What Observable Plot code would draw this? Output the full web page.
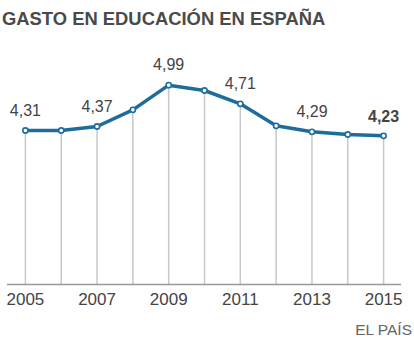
<!DOCTYPE html>
<html>
<head>
<meta charset="utf-8">
<script src="https://cdn.jsdelivr.net/npm/d3@7"></script>
<script src="https://cdn.jsdelivr.net/npm/@observablehq/plot@0.6"></script>
<style>
  html, body { margin: 0; padding: 0; background: #fff; }
  body { width: 414px; height: 345px; overflow: hidden; font-family: "Liberation Sans", Arial, sans-serif; }
  #title { height: 36px; line-height: 38px; padding-left: 2px; font-weight: bold; font-size: 18.4px; color: #4a4a4a; white-space: nowrap; }
  #chart svg { display: block; }
  #caption { text-align: right; padding-right: 2px; font-size: 15.5px; color: #666; line-height: 28px; }
</style>
</head>
<body>
<div id="title">GASTO EN EDUCACIÓN EN ESPAÑA</div>
<div id="chart"></div>
<div id="caption">EL PAÍS</div>
<script>
const years = [2005, 2006, 2007, 2008, 2009, 2010, 2011, 2012, 2013, 2014, 2015];
const values = [4.31, 4.31, 4.37, 4.62, 4.99, 4.91, 4.71, 4.38, 4.29, 4.25, 4.23];
const labelYears = [2005, 2007, 2009, 2011, 2013];
const boldLabelYears = [2015];
const tickYears = [2005, 2007, 2009, 2011, 2013, 2015];

const data = years.map((year, i) => ({year, value: values[i]}));
const labeled = data.filter(d => labelYears.includes(d.year));
const boldLabeled = data.filter(d => boldLabelYears.includes(d.year));
const fmt = v => v.toFixed(2).replace(".", ",");
const lineColor = "#1d6c9c";

const chart = Plot.plot({
  width: 414,
  height: 280,
  marginLeft: 7,
  marginRight: 13,
  marginTop: 48,
  marginBottom: 32,
  style: {fontFamily: "'Liberation Sans', Arial, sans-serif", background: "white", overflow: "visible"},
  x: {domain: [2004.5, 2015.5], label: null},
  y: {domain: [2, 5], axis: null},
  marks: [
    Plot.ruleX(data, {x: "year", y1: 2, y2: "value", stroke: "#c8c8c8", strokeWidth: 1.5}),
    Plot.ruleY([2], {stroke: "#999", strokeWidth: 1.5}),
    Plot.axisX({ticks: tickYears, tickSize: 0, tickPadding: 8, label: null, tickFormat: d => String(d), fontSize: 17, fill: "#444"}),
    Plot.line(data, {x: "year", y: "value", stroke: lineColor, strokeWidth: 3.5, curve: "linear"}),
    Plot.dot(data, {x: "year", y: "value", r: 2.6, fill: "white", stroke: lineColor, strokeWidth: 1.6}),
    Plot.text(labeled, {x: "year", y: "value", text: d => fmt(d.value), dy: -20, fontSize: 16, fill: "#444"}),
    Plot.text(boldLabeled, {x: "year", y: "value", text: d => fmt(d.value), dy: -19, fontSize: 16, fontWeight: "bold", fill: "#444"})
  ]
});
document.getElementById("chart").appendChild(chart);
</script>
</body>
</html>
